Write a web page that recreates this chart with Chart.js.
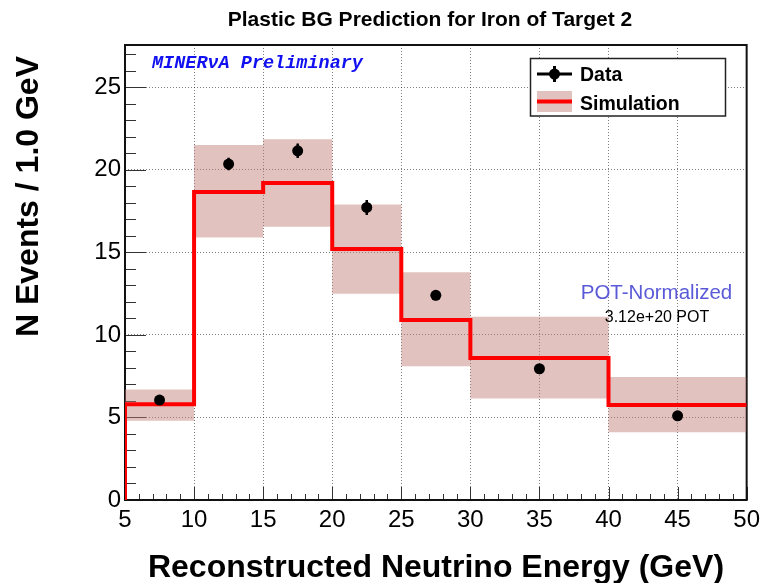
<!DOCTYPE html>
<html>
<head>
<meta charset="utf-8">
<script src="https://cdn.jsdelivr.net/npm/chart.js@4.4.1/dist/chart.umd.min.js"></script>
<style>
  html, body { margin: 0; padding: 0; background: #fff; }
  canvas { display: block; }
</style>
</head>
<body>
<canvas id="c" width="766" height="583"></canvas>
<script>
// Bin edges of the reconstructed neutrino energy histogram (GeV)
const binEdges = [5, 10, 15, 20, 25, 30, 40, 50];
// Simulated plastic background, events per 1.0 GeV
const simValues = [5.8, 18.65, 19.2, 15.2, 10.9, 8.6, 5.75];
// Systematic error band around the simulation
const bandLow  = [4.8, 15.9, 16.55, 12.5, 8.1, 6.15, 4.1];
const bandHigh = [6.7, 21.5, 21.85, 17.9, 13.8, 11.1, 7.45];
// Data points at bin centres, with statistical errors
const dataX   = [7.5, 12.5, 17.5, 22.5, 27.5, 35, 45];
const dataY   = [6.05, 20.35, 21.15, 17.72, 12.4, 7.95, 5.1];
const dataErr = [0.22, 0.38, 0.44, 0.45, 0.3, 0.18, 0.15];
// Axis tick labels
const xTickValues = [5, 10, 15, 20, 25, 30, 35, 40, 45, 50];
const yTickValues = [0, 5, 10, 15, 20, 25];
const yMax = 27.56;

const SANS = '"Liberation Sans", Arial, Helvetica, sans-serif';
const BAND_COLOR = 'rgba(190, 120, 110, 0.45)';

// Histogram outline: each bin contributes its two edges at the bin's height
function stepOutline(values, fromZero) {
  const pts = fromZero ? [{ x: binEdges[0], y: 0 }] : [];
  values.forEach((v, i) => {
    pts.push({ x: binEdges[i], y: v }, { x: binEdges[i + 1], y: v });
  });
  return pts;
}

// Vertical error bars as short segments separated by gaps
const errorSegments = [];
dataX.forEach((x, i) => {
  errorSegments.push({ x, y: dataY[i] - dataErr[i] }, { x, y: dataY[i] + dataErr[i] }, { x, y: null });
});

// Inward tick marks (major every 5, minor every 1) and the frame
const framePlugin = {
  id: 'frame',
  beforeDatasetsDraw(chart) {
    const { ctx, chartArea: a, scales: { x, y } } = chart;
    ctx.save();
    ctx.strokeStyle = '#333';
    ctx.lineWidth = 1;
    ctx.beginPath();
    for (let v = 0; v <= Math.floor(yMax); v++) {
      const py = Math.round(y.getPixelForValue(v)) + 0.5;
      const len = v % 5 === 0 ? 21 : 11;
      ctx.moveTo(a.left, py);
      ctx.lineTo(a.left + len, py);
    }
    for (let v = binEdges[0]; v <= binEdges[binEdges.length - 1]; v++) {
      const px = Math.round(x.getPixelForValue(v)) + 0.5;
      const len = v % 5 === 0 ? 13 : 6;
      ctx.moveTo(px, a.bottom);
      ctx.lineTo(px, a.bottom - len);
    }
    ctx.stroke();
    ctx.strokeStyle = '#111';
    ctx.lineWidth = 2;
    ctx.strokeRect(a.left, a.top, a.right - a.left, a.bottom - a.top);
    ctx.restore();
  }
};

// Titles, labels and the legend box
const textPlugin = {
  id: 'texts',
  afterDraw(chart) {
    const { ctx, chartArea: a } = chart;
    ctx.save();
    ctx.fillStyle = '#000';
    ctx.textBaseline = 'alphabetic';

    ctx.font = `bold 21px ${SANS}`;
    ctx.textAlign = 'center';
    ctx.fillText('Plastic BG Prediction for Iron of Target 2', 430, 26);

    ctx.font = `bold 32px ${SANS}`;
    ctx.fillText('Reconstructed Neutrino Energy (GeV)', 436, 577);

    ctx.save();
    ctx.translate(38, 56);
    ctx.rotate(-Math.PI / 2);
    ctx.font = `bold 32px ${SANS}`;
    ctx.textAlign = 'right';
    ctx.fillText('N Events / 1.0 GeV', 0, 0);
    ctx.restore();

    ctx.font = `italic bold 18.5px "Liberation Mono", "Courier New", monospace`;
    ctx.textAlign = 'left';
    ctx.fillStyle = '#1010f0';
    ctx.fillText('MINER\u03BDA Preliminary', 152, 68);

    ctx.textAlign = 'center';
    ctx.fillStyle = '#5a5ad8';
    ctx.font = `20.5px ${SANS}`;
    ctx.fillText('POT-Normalized', 656.5, 299);
    ctx.fillStyle = '#000';
    ctx.font = `16px ${SANS}`;
    ctx.fillText('3.12e+20 POT', 657, 322);

    // Legend
    const ds = chart.data.datasets;
    const L = { x: 530.5, y: 58.5, w: 195, h: 57.5 };
    ctx.fillStyle = '#fff';
    ctx.fillRect(L.x, L.y, L.w, L.h);
    ctx.strokeStyle = '#222';
    ctx.lineWidth = 1.5;
    ctx.strokeRect(L.x, L.y, L.w, L.h);

    // Data entry
    ctx.strokeStyle = '#000';
    ctx.lineWidth = 3;
    ctx.beginPath();
    ctx.moveTo(537, 74); ctx.lineTo(572, 74);
    ctx.moveTo(554.5, 66); ctx.lineTo(554.5, 82);
    ctx.stroke();
    ctx.fillStyle = '#000';
    ctx.beginPath();
    ctx.arc(554.5, 74, 5.5, 0, Math.PI * 2);
    ctx.fill();

    // Simulation entry
    ctx.fillStyle = BAND_COLOR;
    ctx.fillRect(537, 91, 35, 21);
    ctx.strokeStyle = '#ff0000';
    ctx.lineWidth = 4;
    ctx.beginPath();
    ctx.moveTo(537, 101.5); ctx.lineTo(572, 101.5);
    ctx.stroke();

    ctx.fillStyle = '#000';
    ctx.textAlign = 'left';
    ctx.font = `bold 19.5px ${SANS}`;
    ctx.fillText(ds[0].label, 580, 81);
    ctx.fillText(ds[2].label, 580, 109.5);
    ctx.restore();
  }
};

Chart.defaults.font.family = SANS;
Chart.defaults.color = '#000';

const GRID_COLOR = 'rgba(0,0,0,0.5)';

new Chart(document.getElementById('c'), {
  type: 'line',
  data: {
    datasets: [
      {
        label: 'Data',
        data: dataX.map((x, i) => ({ x, y: dataY[i] })),
        showLine: false,
        pointRadius: 5.5,
        pointHoverRadius: 5.5,
        pointBackgroundColor: '#000',
        pointBorderWidth: 0,
        order: 0
      },
      {
        label: 'Data errors',
        data: errorSegments,
        borderColor: '#000',
        borderWidth: 2.5,
        pointRadius: 0,
        spanGaps: false,
        order: 1
      },
      {
        label: 'Simulation',
        data: stepOutline(simValues, true),
        borderColor: '#ff0000',
        borderWidth: 4,
        pointRadius: 0,
        fill: false,
        borderJoinStyle: 'miter',
        order: 2
      },
      {
        label: 'Band high',
        data: stepOutline(bandHigh, false),
        borderWidth: 0,
        pointRadius: 0,
        backgroundColor: BAND_COLOR,
        fill: '+1',
        order: 3
      },
      {
        label: 'Band low',
        data: stepOutline(bandLow, false),
        borderWidth: 0,
        pointRadius: 0,
        fill: false,
        order: 4
      }
    ]
  },
  options: {
    responsive: false,
    animation: false,
    devicePixelRatio: 1,
    layout: { padding: { top: 45, right: 18, left: 0, bottom: 0 } },
    plugins: {
      legend: { display: false },
      title: { display: false },
      tooltip: { enabled: false }
    },
    events: [],
    scales: {
      x: {
        type: 'linear',
        min: binEdges[0],
        max: binEdges[binEdges.length - 1],
        afterBuildTicks: (s) => { s.ticks = xTickValues.map(value => ({ value })); },
        afterFit: (s) => { s.height = 83; },
        ticks: {
          autoSkip: false,
          maxRotation: 0,
          padding: 6,
          font: { size: 24 },
          color: '#000'
        },
        grid: { color: GRID_COLOR, lineWidth: 1, drawTicks: false },
        border: { display: false, dash: [1, 2] }
      },
      y: {
        type: 'linear',
        min: 0,
        max: yMax,
        afterBuildTicks: (s) => { s.ticks = yTickValues.map(value => ({ value })); },
        afterFit: (s) => { s.width = 125; },
        ticks: {
          padding: 4,
          font: { size: 24 },
          color: '#000'
        },
        grid: { color: GRID_COLOR, lineWidth: 1, drawTicks: false },
        border: { display: false, dash: [1, 2] }
      }
    }
  },
  plugins: [framePlugin, textPlugin]
});
</script>
</body>
</html>
